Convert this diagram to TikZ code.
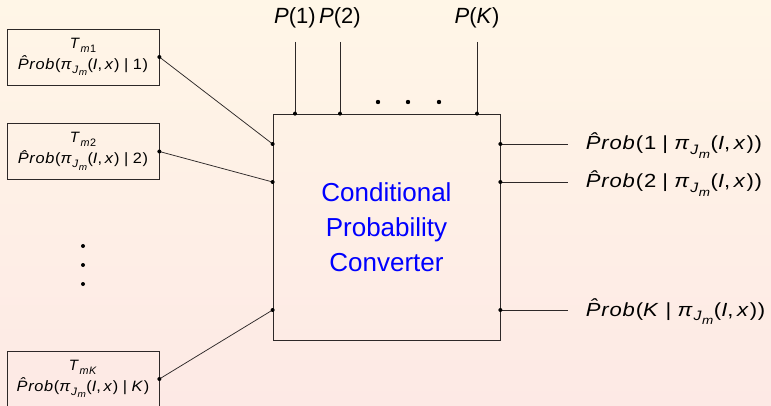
\documentclass[tikz,border=0pt]{standalone}
\usepackage{graphicx}
\usepackage{fontspec}
\setmainfont{Liberation Sans}
\newfontfamily\lblfont[LetterSpace=4]{Liberation Sans}
\usetikzlibrary{positioning}

\definecolor{bgtop}{RGB}{255,246,231}
\definecolor{bgbot}{RGB}{253,233,229}
\definecolor{linegray}{RGB}{45,40,40}

% estimate labels
\newcommand{\sbs}[2][0.72]{\raisebox{-0.25em}{\scalebox{#1}{#2}}}
\newcommand{\Prb}{\textit{\^{P}rob}}
\newcommand{\pij}{\textit{π}\sbs{\textit{J}\sbs[0.85]{\textit{m}}}}
\newcommand{\Ix}{(\textit{I},\,\textit{x})}
\newcommand{\tabline}[1]{\scalebox{1.09}[1]{\Prb(\pij\Ix\;|\;#1)}}
\newcommand{\outline}[1]{\scalebox{1.16}[1]{\Prb(#1\;|\;\pij\Ix)}}

\begin{document}
\begin{tikzpicture}[x=1pt, y=-1pt, line width=0.75pt, draw=linegray,
      tbox/.style={draw, minimum width=152pt, minimum height=56pt, inner sep=0pt,
                   align=center, font=\lblfont\fontsize{15}{21}\selectfont},
      dot/.style={circle, fill=black, inner sep=0pt, minimum size=4pt},
      lbl/.style={font=\lblfont\fontsize{19}{22}\selectfont, inner sep=0pt, anchor=base west},
      plbl/.style={font=\fontsize{22}{26}\selectfont, inner sep=0pt}]

    % background
    \shade[top color=bgtop, bottom color=bgbot] (0,0) rectangle (771,406);
    \useasboundingbox (0,0) rectangle (771,406);

    % converter block
    \node[draw, minimum width=227pt, minimum height=226pt, align=center, text=blue,
          font=\fontsize{26}{35}\selectfont] (cpc) at (386.5,227)
      {Conditional\\Probability\\Converter};

    % tables on the left
    \node[tbox] (t1) at (83,57) {\textit{T}\sbs{\textit{m}1}\\\tabline{1}};
    \node[tbox] (t2) at (83,151.5) {\textit{T}\sbs{\textit{m}2}\\\tabline{2}};
    \node[tbox] (tk) at (83,379) {\textit{T}\sbs{\textit{mK}}\\\tabline{\textit{K}}};
    \foreach \y in {246,265,284}
      \node[dot] (v\y) at (83,\y) {};

    \draw (t1.east) node[dot] {} -- (cpc.west |- 0,144) node[dot] {};
    \draw (t2.east) node[dot] {} -- (cpc.west |- 0,182) node[dot] {};
    \draw (tk.east) node[dot] {} -- (cpc.west |- 0,310) node[dot] {};

    % priors on top
    \node[plbl] (p1) at (295,18) {\textit{P}(1)};
    \node[plbl] (p2) at (340,18) {\textit{P}(2)};
    \node[plbl] (pk) at (477,18) {\textit{P}(\textit{K})};
    \foreach \n/\x in {p1/295, p2/340, pk/477} {
      \coordinate (\n in) at (\x,42);
      \draw (\n in) -- (\n in |- cpc.north) node[dot] {};
    }
    \foreach \x in {378,408,439}
      \node[dot, minimum size=4.4pt] (h\x) at (\x,102) {};

    % outputs on the right
    \foreach \n/\y/\k in {o1/144/1, o2/182/2, ok/310/\textit{K}} {
      \draw (cpc.east |- 0,\y) node[dot] {} -- ++(68,0) coordinate (\n);
      \node[lbl] (\n l) at ([xshift=17pt, yshift=-6pt]\n) {\outline{\k}};
    }

\end{tikzpicture}
\end{document}
